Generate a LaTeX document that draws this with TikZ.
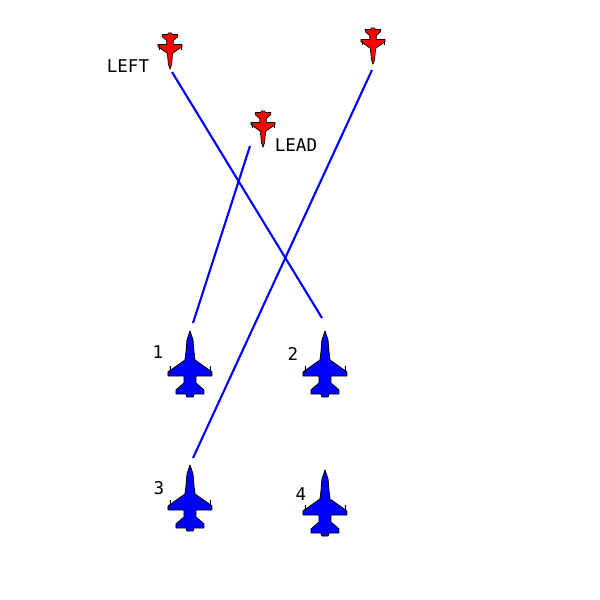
\documentclass[tikz,border=0pt]{standalone}
\usepackage{fontspec}
\setmainfont{DejaVu Sans Mono}
\begin{document}
\begin{tikzpicture}[x=0.02cm,y=-0.02cm]
  \tikzset{jet/.pic={
      \draw[pic actions, line join=round] (0,-33) -- (3,-24) -- (4,-12) -- (5,-4) -- (22,8) -- (22,12)
        -- (6,12) -- (6,19) -- (14,26) -- (14,30) -- (4,30) -- (3,33) -- (-3,33) -- (-4,30)
        -- (-14,30) -- (-14,26) -- (-6,19) -- (-6,12) -- (-22,12) -- (-22,8) -- (-5,-4)
        -- (-4,-12) -- (-3,-24) -- cycle;
      \draw[pic actions] (20,2) -- (20,9) (-20,2) -- (-20,9);}}
  \tikzset{BLUE/.style={fill=blue, draw=black, line width=0.5pt}}
  \tikzset{RED/.style={fill=red, draw=black, line width=0.4pt, scale=0.55, rotate=180}}
  \tikzset{LINK/.style={blue, line width=1.2pt}}
  \tikzset{LBL/.style={font=\fontsize{10}{12}\selectfont}}
  \useasboundingbox (0,0) rectangle (600,600);

  %%%%% JETS
  \pic[BLUE] at (190,364) {jet};
  \pic[BLUE] at (325,364) {jet};
  \pic[BLUE] at (190,498) {jet};
  \pic[BLUE] at (325,503) {jet};

  \pic[RED] at (170,51) {jet};
  \pic[RED] at (263,129) {jet};
  \pic[RED] at (373,46) {jet};

  %%%%% LABELS
  \node[LBL](left) at (128,66) {LEFT};
  \node[LBL](lead) at (296,145) {LEAD};
  \node[LBL](n1) at (158,352) {1};
  \node[LBL](n2) at (293,354) {2};
  \node[LBL](n3) at (159,488) {3};
  \node[LBL](n4) at (301,494) {4};

  %%%%% LINES
  \coordinate (pleft) at (172,72);
  \coordinate (plead) at (250,146);
  \coordinate (pright) at (372,70);
  \coordinate (b1) at (193,323);
  \coordinate (b2) at (322,318);
  \coordinate (b3) at (193,458);

  \draw[LINK] (pleft) -- (b2);
  \draw[LINK] (plead) -- (b1);
  \draw[LINK] (pright) -- (b3);
\end{tikzpicture}
\end{document}
